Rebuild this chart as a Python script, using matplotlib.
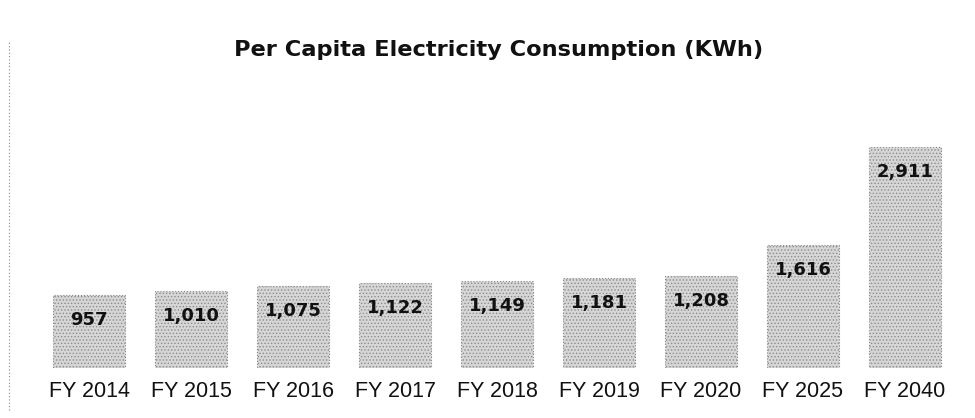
import matplotlib
matplotlib.use("Agg")
import matplotlib.pyplot as plt
from matplotlib.lines import Line2D

plt.rcParams['font.family'] = ['Liberation Sans', 'DejaVu Sans']
plt.rcParams['hatch.linewidth'] = 0.6

years = ["FY 2014", "FY 2015", "FY 2016", "FY 2017", "FY 2018",
         "FY 2019", "FY 2020", "FY 2025", "FY 2040"]
consumption = [957, 1010, 1075, 1122, 1149, 1181, 1208, 1616, 2911]
value_labels = ["957", "1,010", "1,075", "1,122", "1,149",
                "1,181", "1,208", "1,616", "2,911"]

fig = plt.figure(figsize=(9.75, 4.18), dpi=100)
ax = fig.add_axes([0.039, 0.1196, 0.9415, 0.617])

x = range(len(years))
ax.bar(x, consumption, width=0.7, color="#d6d6d6", edgecolor="#8c8c8c",
       linewidth=0.8, linestyle=":", hatch=".....")
for b in ax.patches:
    b._hatch_color = (0.55, 0.55, 0.55, 1.0)

# value labels sit a little under the top of each bar
for i, v in enumerate(consumption):
    ax.annotate(value_labels[i], (i, v), xytext=(0, -25),
                textcoords="offset pixels", ha="center", va="center",
                fontsize=13, fontweight="bold", color="#111111",
                family="DejaVu Sans")

ax.set_xlim(-0.5, len(years) - 0.5)
ax.set_ylim(0, 3400)
ax.set_xticks(list(x))
ax.set_xticklabels(years, fontsize=15.5, color="#111111")
ax.tick_params(axis="x", length=0, pad=9)
ax.set_yticks([])
for s in ax.spines.values():
    s.set_visible(False)

fig.text(0.511, 0.88, "Per Capita Electricity Consumption (KWh)",
         ha="center", va="center", fontsize=16.2, fontweight="bold",
         color="#111111", family="DejaVu Sans")

# dotted page border on the left
fig.add_artist(Line2D([0.009, 0.009], [0.02, 0.9], transform=fig.transFigure,
                      color="#888888", linestyle=(0, (1, 2)), linewidth=0.8))

fig.savefig("out.png", dpi=100)
